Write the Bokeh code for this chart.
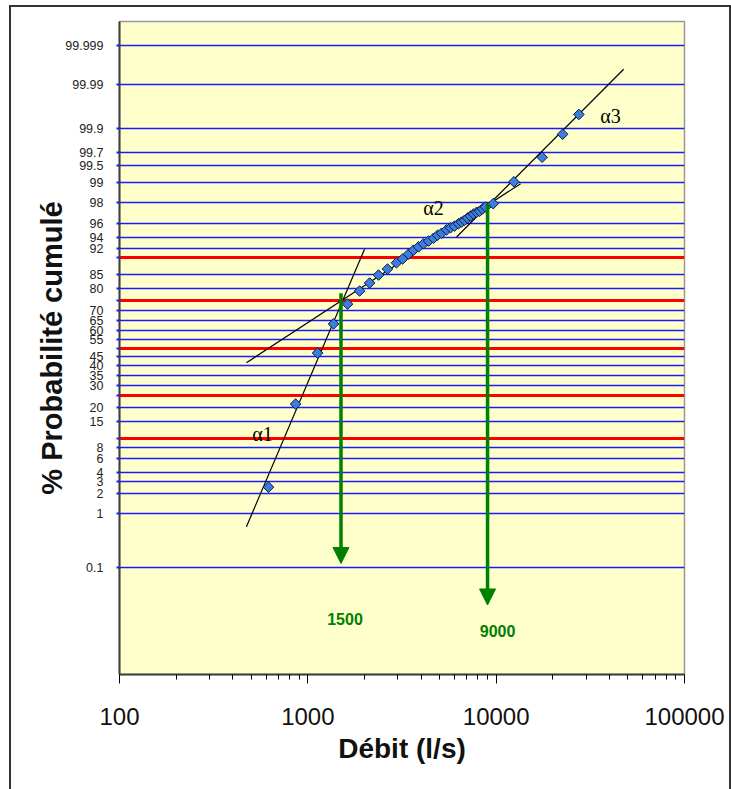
import math
from statistics import NormalDist
from bokeh.plotting import figure
from bokeh.models import (Range1d, FixedTicker, Label, Arrow, NormalHead)
from bokeh.embed import file_html
from bokeh.resources import INLINE

# ---------------- data ----------------
debit = [618, 861, 1126, 1369, 1625, 1882, 2128, 2374, 2648, 2956,
         3184, 3427, 3643, 3872, 4115, 4375, 4652, 4887, 5130, 5455,
         5727, 6012, 6310, 6546, 6792, 7047, 7311, 7586, 7870, 8166,
         8472, 8790, 9640, 12420, 17540, 22540, 27500]
prob = [2.5, 21.5, 47.2, 63.3, 73.2, 78.9, 82.0, 84.8, 86.7, 88.5,
        89.5, 90.7, 91.6, 92.3, 92.9, 93.4, 93.9, 94.4, 94.7, 95.2,
        95.5, 95.7, 96.0, 96.2, 96.4, 96.65, 96.85, 97.05, 97.2, 97.3,
        97.5, 97.65, 97.9, 99.04, 99.64, 99.87, 99.95]

alpha1_x = [472, 2000]
alpha1_p = [0.59, 91.8]
alpha2_x = [472, 13480]
alpha2_p = [41.8, 98.97]
alpha3_x = [6160, 47500]
alpha3_p = [94.1, 99.9957]

blue_levels = [0.1, 1, 2, 3, 4, 6, 8, 15, 20, 30, 35, 40, 45, 55, 60, 65, 70,
               80, 85, 92, 94, 96, 98, 99, 99.5, 99.7, 99.9, 99.99, 99.999]
blue_labels = ["0.1", "1", "2", "3", "4", "6", "8", "15", "20", "30", "35", "40",
               "45", "55", "60", "65", "70", "80", "85", "92", "94", "96", "98",
               "99", "99.5", "99.7", "99.9", "99.99", "99.999"]
red_levels = [10, 25, 50, 75, 90]
red_labels = ["1 0", "2 5", "5 0", "7 5", "9 0"]

x_ticks = [100, 1000, 10000, 100000]
x_tick_labels = ["100", "1000", "10000", "100000"]

arrow_x = [1500, 9000]
arrow_p_start = [78.0, 97.9]
arrow_p_end = [0.12, 0.0147]
arrow_labels = ["1500", "9000"]

nd = NormalDist()
def z(pct):
    return nd.inv_cdf(pct / 100.0)

# ---------------- figure ----------------
p = figure(width=731, height=789, x_axis_type="log",
           x_range=Range1d(100, 100000), y_range=Range1d(-4.6, 4.6),
           output_backend="svg", toolbar_location=None,
           min_border_left=119, min_border_right=47,
           min_border_top=21, min_border_bottom=115)
p.background_fill_color = "#FFFFCC"
p.border_fill_color = None
p.outline_line_color = "#9a9a9a"
p.outline_line_width = 1.5
p.grid.visible = False
# thin dark frame around the whole chart (drawn as CSS background behind the transparent border)
p.styles = {
    "background": ("linear-gradient(#333,#333) 9px 5px / 2px 100% no-repeat, "
                   "linear-gradient(#333,#333) 9px 5px / 722px 2px no-repeat, "
                   "linear-gradient(#333,#333) 729px 5px / 2px 100% no-repeat, white"),
}

# horizontal probability lines
p.hspan(y=[z(v) for v in blue_levels], line_color="#1a1aff", line_width=1.6)
p.hspan(y=[z(v) for v in red_levels], line_color="#ff0000", line_width=3)

# trend lines
for xs, ps in [(alpha1_x, alpha1_p), (alpha2_x, alpha2_p), (alpha3_x, alpha3_p)]:
    p.line(xs, [z(v) for v in ps], line_color="black", line_width=1.2)

# arrows
for xa, ps, pe in zip(arrow_x, arrow_p_start, arrow_p_end):
    p.add_layout(Arrow(end=NormalHead(size=16, fill_color="#008000", line_color="#008000"),
                       x_start=xa, y_start=z(ps), x_end=xa, y_end=z(pe),
                       line_color="#008000", line_width=3.5))

# data points
p.scatter(debit, [z(v) for v in prob], marker="square", angle=math.pi / 4, size=7.5,
          fill_color="#3d7ddb", line_color="#0a1a50", line_width=1)

# arrow value labels
for xa, pe, txt, xo, yo in zip(arrow_x, arrow_p_end, arrow_labels, [4, 10], [-56, -26]):
    p.add_layout(Label(x=xa, y=z(pe), x_offset=xo, y_offset=yo, text=txt,
                       text_align="center", text_baseline="middle",
                       text_color="#008000", text_font="Liberation Sans",
                       text_font_style="bold", text_font_size="16px"))

# alpha labels
for txt, xx, yy in [("α1", 575, -1.21), ("α2", 4653, 1.97), ("α3", 40500, 3.27)]:
    p.add_layout(Label(x=xx, y=yy, text=txt, text_align="center", text_baseline="middle",
                       text_font="Liberation Serif", text_font_size="20px",
                       text_color="black"))

# y axis
ya = p.yaxis[0]
blue_z = [z(v) for v in blue_levels]
ya.ticker = FixedTicker(ticks=blue_z + [z(v) for v in red_levels])
overrides = {bz: lab for bz, lab in zip(blue_z, blue_labels)}
for v in red_levels:
    overrides[z(v)] = ""
ya.major_label_overrides = overrides
ya.axis_line_color = "#404040"
ya.axis_line_width = 2
ya.major_tick_line_color = "#1a1aff"
ya.major_tick_line_width = 2
ya.major_tick_out = 3
ya.major_tick_in = 0
ya.minor_tick_line_color = None
ya.major_label_standoff = 13
ya.major_label_text_font = "Liberation Sans"
ya.major_label_text_font_size = "12.5px"
ya.major_label_text_color = "#222222"
ya.axis_label = "% Probabilité cumulé"
ya.axis_label_text_font = "Liberation Sans"
ya.axis_label_text_font_style = "bold"
ya.axis_label_text_font_size = "29px"
ya.axis_label_text_color = "#111111"
ya.axis_label_standoff = -6

for v, lab in zip(red_levels, red_labels):
    p.add_layout(Label(x=100, y=z(v), x_offset=-15, text=lab, text_align="right",
                       text_baseline="middle", text_color="#ff0000",
                       text_font="Liberation Sans", text_font_style="bold",
                       text_font_size="9.5px"))

# x axis
xa_ = p.xaxis[0]
xa_.ticker = FixedTicker(ticks=x_ticks,
                         minor_ticks=[m * d for d in [100, 1000, 10000] for m in range(2, 10)])
xa_.major_label_overrides = {t: l for t, l in zip(x_ticks, x_tick_labels)}
xa_.axis_line_color = "#404040"
xa_.axis_line_width = 2
xa_.major_tick_line_color = "black"
xa_.minor_tick_line_color = "black"
xa_.major_tick_out = 9
xa_.major_tick_in = 0
xa_.minor_tick_out = 5
xa_.minor_tick_in = 0
xa_.major_label_standoff = 24
xa_.major_label_text_font = "Liberation Sans"
xa_.major_label_text_font_size = "24px"
xa_.major_label_text_color = "#111111"
xa_.axis_label = "Débit (l/s)"
xa_.axis_label_text_font = "Liberation Sans"
xa_.axis_label_text_font_style = "bold"
xa_.axis_label_text_font_size = "28px"
xa_.axis_label_text_color = "#111111"
xa_.axis_label_standoff = 5

open("out.html", "w").write(file_html(p, INLINE))
